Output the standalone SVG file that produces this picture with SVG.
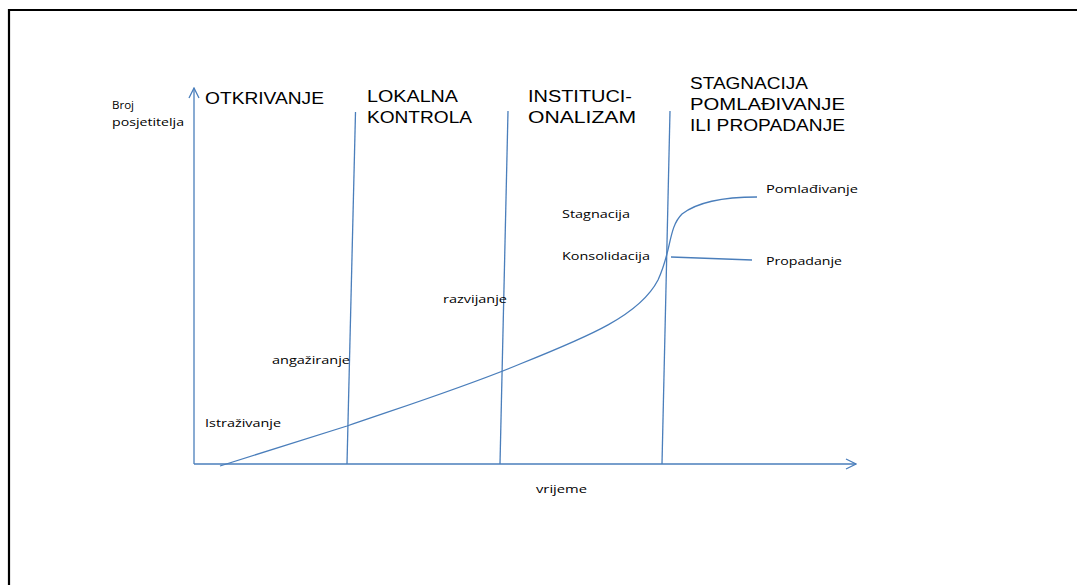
<svg xmlns="http://www.w3.org/2000/svg" width="1078" height="585" viewBox="0 0 1078 585">
<style>
.ln{stroke:#4a7ebb;stroke-width:1.3;fill:none}
.big{font-family:"Liberation Sans",Arial,sans-serif;font-size:16px;fill:#000}
.sm{font-family:"Open Sans","Liberation Sans",sans-serif;font-size:11.5px;fill:#000}
</style>
<defs>
<marker id="arr" viewBox="0 0 12 12" refX="11" refY="6" markerWidth="12" markerHeight="12" markerUnits="userSpaceOnUse" orient="auto">
<path d="M1,1 L11,6 L1,11" fill="none" stroke="#4a7ebb" stroke-width="1.3"/>
</marker>
</defs>
<rect width="1078" height="585" fill="#fff"/>
<g id="frame">
<path d="M9,585 L9,10 L1077,10" fill="none" stroke="#000" stroke-width="2.2"/>
</g>
<g id="connectors">
<line class="ln" x1="194" y1="464" x2="194" y2="88" marker-end="url(#arr)"/>
<line class="ln" x1="194" y1="464" x2="856" y2="464" marker-end="url(#arr)"/>
<line class="ln" x1="347" y1="464" x2="355.5" y2="112"/>
<line class="ln" x1="500" y1="464" x2="508" y2="111"/>
<line class="ln" x1="662" y1="464" x2="670" y2="111"/>
<path class="ln" d="M220,466 L347,426 C420,401 470,385 520,364 C590,336 640,315 658,280 C672,250 668,228 682,214 C700,200 728,197 757,197"/>
<path class="ln" d="M671,257 L752,260"/>
</g>
<g id="labels-big">
<text class="big" x="205" y="104" textLength="119" lengthAdjust="spacingAndGlyphs">OTKRIVANJE</text>
<text class="big" x="367" y="102" textLength="91" lengthAdjust="spacingAndGlyphs">LOKALNA</text>
<text class="big" x="367" y="123" textLength="105" lengthAdjust="spacingAndGlyphs">KONTROLA</text>
<text class="big" x="528" y="102" textLength="104" lengthAdjust="spacingAndGlyphs">INSTITUCI-</text>
<text class="big" x="528" y="123" textLength="108" lengthAdjust="spacingAndGlyphs">ONALIZAM</text>
<text class="big" x="690" y="89" textLength="118" lengthAdjust="spacingAndGlyphs">STAGNACIJA</text>
<text class="big" x="690" y="110" textLength="155" lengthAdjust="spacingAndGlyphs">POMLAĐIVANJE</text>
<text class="big" x="690" y="131" textLength="155" lengthAdjust="spacingAndGlyphs">ILI PROPADANJE</text>
</g>
<g id="labels-small">
<text class="sm" x="112" y="109" textLength="22" lengthAdjust="spacingAndGlyphs">Broj</text>
<text class="sm" x="112" y="126" textLength="72" lengthAdjust="spacingAndGlyphs">posjetitelja</text>
<text class="sm" x="562" y="218" textLength="68" lengthAdjust="spacingAndGlyphs">Stagnacija</text>
<text class="sm" x="562" y="260" textLength="88" lengthAdjust="spacingAndGlyphs">Konsolidacija</text>
<text class="sm" x="766" y="193" textLength="92" lengthAdjust="spacingAndGlyphs">Pomlađivanje</text>
<text class="sm" x="766" y="265" textLength="76" lengthAdjust="spacingAndGlyphs">Propadanje</text>
<text class="sm" x="443" y="303" textLength="64" lengthAdjust="spacingAndGlyphs">razvijanje</text>
<text class="sm" x="272" y="364" textLength="78" lengthAdjust="spacingAndGlyphs">angažiranje</text>
<text class="sm" x="205" y="427" textLength="76" lengthAdjust="spacingAndGlyphs">Istraživanje</text>
<text class="sm" x="536" y="493" textLength="51" lengthAdjust="spacingAndGlyphs">vrijeme</text>
</g>
</svg>
